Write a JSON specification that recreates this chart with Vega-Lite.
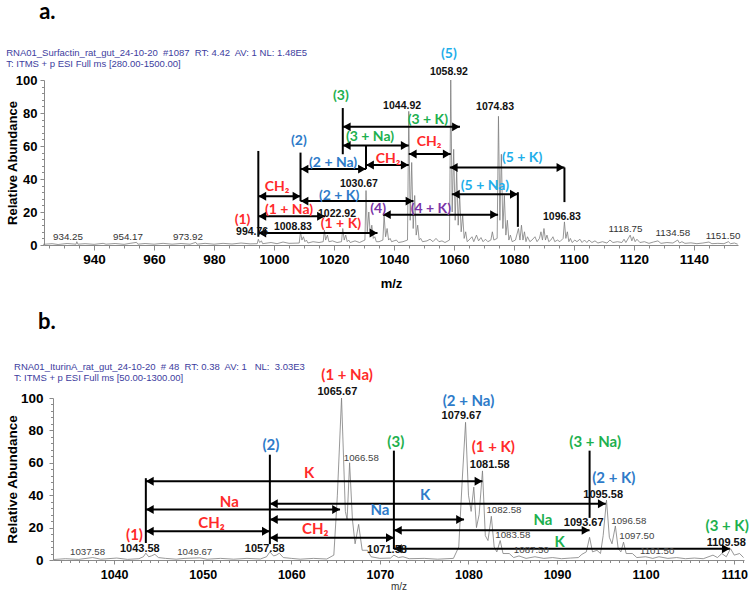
{
  "$schema": "https://vega.github.io/schema/vega-lite/v6.json",
  "padding": {"left": 5, "top": 0, "right": 0, "bottom": 0},
  "background": "white",
  "config": {
    "view": {"stroke": null},
    "axis": {"domainColor": "#8a8a8a", "tickColor": "#8a8a8a", "grid": false, "labelFont": "Liberation Sans", "titleFont": "Liberation Sans", "labelColor": "#000000", "titleColor": "#000000"}
  },
  "datasets": {
    "specA": [
      {"mz":923,"ab":0.4},{"mz":926,"ab":0.8},{"mz":928,"ab":0.3},{"mz":931,"ab":0.9},{"mz":934,"ab":0.5},{"mz":934.25,"ab":2},{"mz":934.6,"ab":0.5},{"mz":937,"ab":0.8},{"mz":940,"ab":0.4},{"mz":943,"ab":1},{"mz":944,"ab":0.5},{"mz":947,"ab":0.9},{"mz":950,"ab":0.4},{"mz":952,"ab":1},{"mz":954.17,"ab":1.6},{"mz":954.6,"ab":0.5},{"mz":957,"ab":0.9},{"mz":960,"ab":0.5},{"mz":963,"ab":1},{"mz":966,"ab":0.5},{"mz":969,"ab":0.9},{"mz":972,"ab":0.5},{"mz":973.92,"ab":1.6},{"mz":974.3,"ab":0.5},{"mz":977,"ab":1},{"mz":980,"ab":0.5},{"mz":983,"ab":1},{"mz":986,"ab":0.6},{"mz":989,"ab":1.2},{"mz":992,"ab":0.7},{"mz":994.4,"ab":0.8},{"mz":994.76,"ab":3.5},{"mz":995.2,"ab":1.5},{"mz":995.8,"ab":2.5},{"mz":996.2,"ab":0.8},{"mz":999,"ab":1.5},{"mz":1001,"ab":0.8},{"mz":1003,"ab":1.8},{"mz":1005,"ab":1},{"mz":1008.4,"ab":1.2},{"mz":1008.83,"ab":8},{"mz":1009.3,"ab":3},{"mz":1009.8,"ab":5},{"mz":1010.3,"ab":2},{"mz":1010.8,"ab":3},{"mz":1011.3,"ab":1.2},{"mz":1013,"ab":2},{"mz":1015,"ab":1.5},{"mz":1016.4,"ab":2},{"mz":1016.8,"ab":9},{"mz":1017.2,"ab":3},{"mz":1017.8,"ab":6},{"mz":1018.3,"ab":2},{"mz":1019.5,"ab":2.5},{"mz":1021,"ab":1.5},{"mz":1022.5,"ab":2},{"mz":1022.92,"ab":10},{"mz":1023.4,"ab":3},{"mz":1023.9,"ab":6},{"mz":1024.4,"ab":2},{"mz":1024.9,"ab":3},{"mz":1025.4,"ab":1.5},{"mz":1027,"ab":2.5},{"mz":1028.5,"ab":1.5},{"mz":1030.3,"ab":3},{"mz":1030.67,"ab":33},{"mz":1031.1,"ab":8},{"mz":1031.6,"ab":20},{"mz":1032.1,"ab":6},{"mz":1032.6,"ab":12},{"mz":1033.1,"ab":4},{"mz":1033.6,"ab":5},{"mz":1034.1,"ab":2},{"mz":1035,"ab":2},{"mz":1036.3,"ab":3},{"mz":1036.7,"ab":18},{"mz":1037.2,"ab":5},{"mz":1037.7,"ab":10},{"mz":1038.2,"ab":3},{"mz":1038.7,"ab":4},{"mz":1039.2,"ab":2},{"mz":1040.8,"ab":3},{"mz":1041.5,"ab":1.5},{"mz":1043,"ab":2},{"mz":1044.5,"ab":3},{"mz":1044.92,"ab":81},{"mz":1045.4,"ab":15},{"mz":1045.9,"ab":50},{"mz":1046.4,"ab":10},{"mz":1046.9,"ab":30},{"mz":1047.4,"ab":6},{"mz":1047.9,"ab":12},{"mz":1048.4,"ab":3},{"mz":1048.9,"ab":4},{"mz":1049.5,"ab":2},{"mz":1051,"ab":2.5},{"mz":1052,"ab":3.5},{"mz":1053,"ab":2},{"mz":1054,"ab":4},{"mz":1055,"ab":2},{"mz":1056,"ab":2.5},{"mz":1057,"ab":1.5},{"mz":1058.5,"ab":3},{"mz":1058.92,"ab":100},{"mz":1059.4,"ab":20},{"mz":1059.9,"ab":58},{"mz":1060.4,"ab":15},{"mz":1060.9,"ab":45},{"mz":1061.4,"ab":12},{"mz":1061.9,"ab":30},{"mz":1062.4,"ab":8},{"mz":1062.9,"ab":18},{"mz":1063.4,"ab":4},{"mz":1063.9,"ab":8},{"mz":1064.4,"ab":2},{"mz":1065,"ab":3},{"mz":1066,"ab":5},{"mz":1066.6,"ab":2},{"mz":1067.5,"ab":6},{"mz":1068.2,"ab":2.5},{"mz":1069,"ab":4.5},{"mz":1069.7,"ab":2},{"mz":1070.5,"ab":3.5},{"mz":1071.3,"ab":2},{"mz":1072.3,"ab":3},{"mz":1072.8,"ab":8},{"mz":1073.3,"ab":3},{"mz":1074.4,"ab":4},{"mz":1074.83,"ab":78},{"mz":1075.3,"ab":15},{"mz":1075.8,"ab":55},{"mz":1076.3,"ab":10},{"mz":1076.8,"ab":30},{"mz":1077.3,"ab":6},{"mz":1077.8,"ab":15},{"mz":1078.3,"ab":3},{"mz":1078.8,"ab":6},{"mz":1079.4,"ab":2},{"mz":1080.5,"ab":3},{"mz":1081.5,"ab":10},{"mz":1082,"ab":3},{"mz":1082.5,"ab":12},{"mz":1083,"ab":3},{"mz":1083.5,"ab":8},{"mz":1084,"ab":2},{"mz":1084.5,"ab":5},{"mz":1085.3,"ab":2},{"mz":1086,"ab":3},{"mz":1087,"ab":5},{"mz":1087.7,"ab":2},{"mz":1088.5,"ab":4},{"mz":1089,"ab":8},{"mz":1089.5,"ab":3},{"mz":1090,"ab":10},{"mz":1090.5,"ab":3},{"mz":1091,"ab":6},{"mz":1091.6,"ab":2},{"mz":1092.3,"ab":3},{"mz":1093,"ab":5},{"mz":1093.6,"ab":2},{"mz":1094.5,"ab":3},{"mz":1095.3,"ab":2},{"mz":1096.4,"ab":4},{"mz":1096.83,"ab":14},{"mz":1097.3,"ab":4},{"mz":1097.8,"ab":8},{"mz":1098.3,"ab":2},{"mz":1098.8,"ab":4},{"mz":1099.4,"ab":1.5},{"mz":1100.3,"ab":3},{"mz":1101,"ab":2},{"mz":1102,"ab":3.5},{"mz":1102.7,"ab":1.5},{"mz":1103.5,"ab":3},{"mz":1104.3,"ab":1.5},{"mz":1105,"ab":3},{"mz":1106,"ab":1.5},{"mz":1107,"ab":2.5},{"mz":1108,"ab":1.2},{"mz":1109.5,"ab":2},{"mz":1111,"ab":1.2},{"mz":1112,"ab":3},{"mz":1113,"ab":1.5},{"mz":1114.5,"ab":2},{"mz":1116,"ab":1.5},{"mz":1116.7,"ab":3.5},{"mz":1117.3,"ab":1.5},{"mz":1118.75,"ab":6},{"mz":1119.3,"ab":2.5},{"mz":1119.8,"ab":5},{"mz":1120.4,"ab":2},{"mz":1121,"ab":3.5},{"mz":1122,"ab":1.5},{"mz":1123.5,"ab":2},{"mz":1125,"ab":1},{"mz":1126.5,"ab":1.8},{"mz":1128,"ab":2.5},{"mz":1129,"ab":1},{"mz":1131,"ab":1.5},{"mz":1133,"ab":1.2},{"mz":1134.58,"ab":3},{"mz":1135.2,"ab":1.2},{"mz":1136,"ab":2},{"mz":1137,"ab":1},{"mz":1139,"ab":1.3},{"mz":1141,"ab":0.8},{"mz":1143,"ab":1.2},{"mz":1145,"ab":1.8},{"mz":1146,"ab":0.8},{"mz":1148,"ab":1},{"mz":1150,"ab":0.8},{"mz":1151.5,"ab":2},{"mz":1152.2,"ab":0.8},{"mz":1153.5,"ab":1.2},{"mz":1154.6,"ab":0.5}
    ],
    "arrA": [
      {"mz":994.76,"mz2":1008.83,"ab":29.6},
      {"mz":994.76,"mz2":1017,"ab":17.4},
      {"mz":994.76,"mz2":1034.5,"ab":7.3},
      {"mz":1008.83,"mz2":1030.67,"ab":46},
      {"mz":1008.83,"mz2":1046.5,"ab":26.6},
      {"mz":1022.92,"mz2":1044.92,"ab":60.3},
      {"mz":1022.92,"mz2":1062,"ab":71.6},
      {"mz":1030.67,"mz2":1044.92,"ab":48.5},
      {"mz":1044.92,"mz2":1058.92,"ab":55.2},
      {"mz":1036.3,"mz2":1074.7,"ab":18.4},
      {"mz":1059.3,"mz2":1081.3,"ab":30.7},
      {"mz":1058.6,"mz2":1096.83,"ab":47}
    ],
    "vlA": [
      {"mz":994.76,"ab":5,"ab2":57},
      {"mz":1008.83,"ab":26.6,"ab2":56},
      {"mz":1022.92,"ab":55,"ab2":83},
      {"mz":1030.67,"ab":46,"ab2":60.3},
      {"mz":1081.3,"ab":11,"ab2":32},
      {"mz":1096.83,"ab":26,"ab2":47}
    ],
    "labA": [
      {"k":"ion","s":"c1","mz":989.5,"ab":15,"t":"(1)"},
      {"k":"ion","s":"c1","mz":1005,"ab":21,"t":"(1 + Na)"},
      {"k":"ion","s":"c1","mz":1022.3,"ab":13,"t":"(1 + K)"},
      {"k":"ion","s":"c1","mz":1001,"ab":35,"t":"CH₂"},
      {"k":"ion","s":"c2","mz":1008.3,"ab":63,"t":"(2)"},
      {"k":"ion","s":"c2","mz":1019.7,"ab":50,"t":"(2 + Na)"},
      {"k":"ion","s":"c2","mz":1021.7,"ab":30,"t":"(2 + K)"},
      {"k":"ion","s":"c3","mz":1022.3,"ab":90.5,"t":"(3)"},
      {"k":"ion","s":"c3","mz":1032,"ab":65.6,"t":"(3 + Na)"},
      {"k":"ion","s":"c3","mz":1051.3,"ab":76,"t":"(3 + K)"},
      {"k":"ion","s":"c1","mz":1038,"ab":52,"t":"CH₂"},
      {"k":"ion","s":"c1","mz":1051.7,"ab":62.6,"t":"CH₂"},
      {"k":"ion","s":"c4","mz":1034.7,"ab":22,"t":"(4)"},
      {"k":"ion","s":"c4","mz":1052.3,"ab":22,"t":"(4 + K)"},
      {"k":"ion","s":"c5","mz":1058.3,"ab":116,"t":"(5)"},
      {"k":"ion","s":"c5","mz":1070.3,"ab":35.6,"t":"(5 + Na)"},
      {"k":"ion","s":"c5","mz":1082.7,"ab":52.8,"t":"(5 + K)"},
      {"k":"pk","mz":992.7,"ab":8,"t":"994.76"},
      {"k":"pk","mz":1006.3,"ab":11,"t":"1008.83"},
      {"k":"pk","mz":1021,"ab":19,"t":"1022.92"},
      {"k":"pk","mz":1028.3,"ab":36.8,"t":"1030.67"},
      {"k":"pk","mz":1042.7,"ab":84,"t":"1044.92"},
      {"k":"pk","mz":1058.3,"ab":105,"t":"1058.92"},
      {"k":"pk","mz":1073.7,"ab":83.4,"t":"1074.83"},
      {"k":"pk","mz":1096,"ab":17,"t":"1096.83"},
      {"k":"sm","mz":931.3,"ab":5,"t":"934.25"},
      {"k":"sm","mz":951.3,"ab":5,"t":"954.17"},
      {"k":"sm","mz":971.3,"ab":5,"t":"973.92"},
      {"k":"sm","mz":1117.2,"ab":9.8,"t":"1118.75"},
      {"k":"sm","mz":1133,"ab":7,"t":"1134.58"},
      {"k":"sm","mz":1149.7,"ab":5.5,"t":"1151.50"},
      {"k":"hd","mz":910.7,"ab":116.5,"t":"RNA01_Surfactin_rat_gut_24-10-20\u00a0 #1087\u00a0 RT: 4.42\u00a0 AV: 1 NL: 1.48E5"},
      {"k":"hd","mz":910.7,"ab":110,"t":"T: ITMS + p ESI Full ms [280.00-1500.00]"},
      {"k":"lt","mz":921.7,"ab":137.2,"t":"a."}
    ],
    "specB": [
      {"mz":1033.2,"ab":0.3},{"mz":1034.5,"ab":0.8},{"mz":1036,"ab":0.4},{"mz":1037.58,"ab":1.5},{"mz":1038.5,"ab":0.5},{"mz":1040.3,"ab":1.2},{"mz":1041.5,"ab":0.4},{"mz":1042.8,"ab":0.8},{"mz":1043.3,"ab":2},{"mz":1043.58,"ab":4.2},{"mz":1043.9,"ab":2},{"mz":1044.2,"ab":2.5},{"mz":1044.6,"ab":3.5},{"mz":1045,"ab":1.5},{"mz":1045.8,"ab":1},{"mz":1047,"ab":0.5},{"mz":1048,"ab":1},{"mz":1049.67,"ab":1.3},{"mz":1050.5,"ab":0.5},{"mz":1052,"ab":1},{"mz":1053.5,"ab":0.5},{"mz":1055,"ab":1},{"mz":1056.5,"ab":0.6},{"mz":1057.2,"ab":2},{"mz":1057.58,"ab":5},{"mz":1058,"ab":2.5},{"mz":1058.3,"ab":3},{"mz":1058.65,"ab":4.2},{"mz":1059.1,"ab":1.5},{"mz":1060,"ab":1},{"mz":1061,"ab":0.5},{"mz":1062.5,"ab":1},{"mz":1064,"ab":0.6},{"mz":1064.8,"ab":3},{"mz":1065.2,"ab":40},{"mz":1065.67,"ab":100},{"mz":1066.1,"ab":30},{"mz":1066.3,"ab":25},{"mz":1066.58,"ab":60},{"mz":1066.9,"ab":25},{"mz":1067.2,"ab":10},{"mz":1067.6,"ab":22},{"mz":1068,"ab":6},{"mz":1068.6,"ab":6},{"mz":1069,"ab":2},{"mz":1070,"ab":1},{"mz":1071.2,"ab":1.2},{"mz":1071.58,"ab":3},{"mz":1072.1,"ab":1.5},{"mz":1072.6,"ab":2},{"mz":1073.3,"ab":0.8},{"mz":1075,"ab":1},{"mz":1076.5,"ab":0.5},{"mz":1078.3,"ab":1},{"mz":1078.9,"ab":8},{"mz":1079.3,"ab":50},{"mz":1079.67,"ab":85},{"mz":1080,"ab":40},{"mz":1080.3,"ab":30},{"mz":1080.6,"ab":45},{"mz":1080.9,"ab":20},{"mz":1081.2,"ab":28},{"mz":1081.58,"ab":55},{"mz":1081.9,"ab":15},{"mz":1082.2,"ab":12},{"mz":1082.58,"ab":27},{"mz":1082.9,"ab":8},{"mz":1083.2,"ab":5},{"mz":1083.58,"ab":12},{"mz":1083.9,"ab":4},{"mz":1084.6,"ab":4},{"mz":1085.1,"ab":1.5},{"mz":1085.7,"ab":2.5},{"mz":1086.5,"ab":1},{"mz":1087.5,"ab":2},{"mz":1088.5,"ab":1},{"mz":1089.5,"ab":1.5},{"mz":1090.5,"ab":0.8},{"mz":1091.5,"ab":1.2},{"mz":1092.4,"ab":1.5},{"mz":1092.8,"ab":3.5},{"mz":1093.3,"ab":5},{"mz":1093.67,"ab":14},{"mz":1094,"ab":5},{"mz":1094.5,"ab":6},{"mz":1094.9,"ab":4},{"mz":1095.2,"ab":15},{"mz":1095.58,"ab":37},{"mz":1095.9,"ab":14},{"mz":1096.2,"ab":10},{"mz":1096.58,"ab":21},{"mz":1096.9,"ab":7},{"mz":1097.2,"ab":5},{"mz":1097.5,"ab":11},{"mz":1097.8,"ab":4},{"mz":1098.5,"ab":4},{"mz":1099,"ab":1.5},{"mz":1100,"ab":2},{"mz":1100.8,"ab":1},{"mz":1101.5,"ab":2},{"mz":1102.5,"ab":1},{"mz":1103.5,"ab":1.5},{"mz":1104.5,"ab":0.8},{"mz":1105.5,"ab":1.2},{"mz":1106.5,"ab":0.8},{"mz":1107.6,"ab":3},{"mz":1108.1,"ab":1.5},{"mz":1108.6,"ab":4},{"mz":1109.1,"ab":2},{"mz":1109.58,"ab":7},{"mz":1110,"ab":3},{"mz":1110.6,"ab":4},{"mz":1111.05,"ab":1.5}
    ],
    "arrB": [
      {"mz":1043.58,"mz2":1081.58,"ab":48.6},
      {"mz":1043.58,"mz2":1065.5,"ab":31.2},
      {"mz":1043.58,"mz2":1057.58,"ab":17.8},
      {"mz":1057.58,"mz2":1095.5,"ab":34.7},
      {"mz":1057.58,"mz2":1079.5,"ab":25},
      {"mz":1057.58,"mz2":1071.58,"ab":13.7},
      {"mz":1071.58,"mz2":1093.67,"ab":18.3},
      {"mz":1071.58,"mz2":1109.5,"ab":7}
    ],
    "vlB": [
      {"mz":1043.58,"ab":10.5,"ab2":50.5},
      {"mz":1057.58,"ab":9.8,"ab2":65},
      {"mz":1071.58,"ab":6.7,"ab2":67.5},
      {"mz":1093.67,"ab":26,"ab2":67.5}
    ],
    "labB": [
      {"k":"ion","s":"c1","mz":1042.3,"ab":15.7,"t":"(1)"},
      {"k":"ion","s":"c2","mz":1057.7,"ab":71,"t":"(2)"},
      {"k":"ion","s":"c1","mz":1062,"ab":54,"t":"K"},
      {"k":"ion","s":"c1","mz":1053,"ab":36,"t":"Na"},
      {"k":"ion","s":"c1","mz":1051,"ab":22.7,"t":"CH₂"},
      {"k":"ion","s":"c1","mz":1062.7,"ab":19,"t":"CH₂"},
      {"k":"ion","s":"c2","mz":1070,"ab":30.8,"t":"Na"},
      {"k":"ion","s":"c2","mz":1075.1,"ab":40,"t":"K"},
      {"k":"ion","s":"c3","mz":1088.4,"ab":24.6,"t":"Na"},
      {"k":"ion","s":"c3","mz":1090.3,"ab":11.4,"t":"K"},
      {"k":"ion","s":"c1","mz":1066.3,"ab":114.5,"t":"(1 + Na)"},
      {"k":"ion","s":"c2","mz":1080,"ab":98,"t":"(2 + Na)"},
      {"k":"ion","s":"c3","mz":1071.8,"ab":73,"t":"(3)"},
      {"k":"ion","s":"c1","mz":1082.8,"ab":70,"t":"(1 + K)"},
      {"k":"ion","s":"c3","mz":1094.3,"ab":73,"t":"(3 + Na)"},
      {"k":"ion","s":"c2","mz":1096.4,"ab":50.8,"t":"(2 + K)"},
      {"k":"ion","s":"c3","mz":1109.2,"ab":21,"t":"(3 + K)"},
      {"k":"pk","mz":1042.9,"ab":7,"t":"1043.58"},
      {"k":"pk","mz":1057,"ab":7,"t":"1057.58"},
      {"k":"pk","mz":1070.8,"ab":6,"t":"1071.58"},
      {"k":"pk","mz":1065.2,"ab":104,"t":"1065.67"},
      {"k":"pk","mz":1079.2,"ab":88.6,"t":"1079.67"},
      {"k":"pk","mz":1082.4,"ab":58.8,"t":"1081.58"},
      {"k":"pk","mz":1095.2,"ab":40.3,"t":"1095.58"},
      {"k":"pk","mz":1093,"ab":23,"t":"1093.67"},
      {"k":"pk","mz":1109.1,"ab":10.8,"t":"1109.58"},
      {"k":"sm","mz":1037,"ab":5,"t":"1037.58"},
      {"k":"sm","mz":1049.1,"ab":5,"t":"1049.67"},
      {"k":"sm","mz":1067.9,"ab":63,"t":"1066.58"},
      {"k":"sm","mz":1084,"ab":30.8,"t":"1082.58"},
      {"k":"sm","mz":1098.1,"ab":24,"t":"1096.58"},
      {"k":"sm","mz":1085,"ab":15.4,"t":"1083.58"},
      {"k":"sm","mz":1099,"ab":14.8,"t":"1097.50"},
      {"k":"sm","mz":1087.1,"ab":6,"t":"1087.50"},
      {"k":"sm","mz":1101.3,"ab":5.5,"t":"1101.50"},
      {"k":"hd","mz":1028.7,"ab":119,"t":"RNA01_IturinA_rat_gut_24-10-20\u00a0 # 48\u00a0 RT: 0.38\u00a0 AV: 1\u00a0\u00a0 NL:\u00a0 3.03E3"},
      {"k":"hd","mz":1028.7,"ab":112.3,"t":"T: ITMS + p ESI Full ms [50.00-1300.00]"},
      {"k":"lt","mz":1031.4,"ab":142.6,"t":"b."}
    ]
  },
  "columns": 1,
  "align": "none",
  "spacing": 19,
  "resolve": {"scale": {"x": "independent", "y": "independent", "color": "independent"}},
  "concat": [
    {
      "width": 685,
      "height": 165,
      "resolve": {"axis": {"x": "independent", "y": "independent"}},
      "layer": [
        {
          "data": {"name": "specA"},
          "mark": {"type": "line", "color": "#7d7d7d", "strokeWidth": 0.8},
          "encoding": {
            "x": {"field": "mz", "type": "quantitative", "scale": {"domain": [923.3, 1154.7], "range": [-9, 685], "nice": false, "zero": false},
              "axis": {"orient": "bottom", "title": "m/z", "format": "d", "values": [940,960,980,1000,1020,1040,1060,1080,1100,1120,1140],
                "labelOverlap": false, "labelFlush": false,
                "labelFontSize": 13.5, "labelFontWeight": "bold", "labelPadding": 2, "tickSize": 5,
                "titleFontSize": 13, "titleFontWeight": "bold", "titlePadding": 12}},
            "y": {"field": "ab", "type": "quantitative", "scale": {"domain": [0, 100], "nice": false},
              "axis": {"orient": "left", "offset": 9, "title": "Relative Abundance", "format": "d", "values": [0,20,40,60,80,100],
                "labelOverlap": false, "labelFlush": false,
                "labelFontSize": 13, "labelFontWeight": "bold", "labelPadding": 3, "tickSize": 4,
                "titleFontSize": 13, "titleFontWeight": "bold", "titlePadding": -4}}
          }
        },
        {
          "data": {"name": "vlA"},
          "mark": {"type": "rule", "color": "#000000", "strokeWidth": 2},
          "encoding": {
            "x": {"field": "mz", "type": "quantitative", "scale": {"domain": [923.3, 1154.7], "range": [-9, 685], "nice": false, "zero": false},
              "axis": {"orient": "bottom", "title": null, "labels": false, "domain": false, "tickSize": 3,
                "values": [925,930,935,945,950,955,965,970,975,985,990,995,1005,1010,1015,1025,1030,1035,1045,1050,1055,1065,1070,1075,1085,1090,1095,1105,1110,1115,1125,1130,1135,1145,1150]}},
            "y": {"field": "ab", "type": "quantitative", "scale": {"domain": [0, 100], "nice": false},
              "axis": {"orient": "left", "offset": 9, "title": null, "labels": false, "domain": false, "tickSize": 2.5,
                "values": [4,8,12,16,24,28,32,36,44,48,52,56,64,68,72,76,84,88,92,96]}},
            "y2": {"field": "ab2"}
          }
        },
        {
          "data": {"name": "arrA"},
          "mark": {"type": "rule", "color": "#000000", "strokeWidth": 2},
          "encoding": {
            "x": {"field": "mz", "type": "quantitative", "scale": {"domain": [923.3, 1154.7], "range": [-9, 685], "nice": false, "zero": false}, "axis": null},
            "x2": {"field": "mz2"},
            "y": {"field": "ab", "type": "quantitative", "scale": {"domain": [0, 100], "nice": false}, "axis": null}
          }
        },
        {
          "data": {"name": "arrA"},
          "mark": {"type": "point", "shape": "triangle-left", "filled": true, "color": "#000000", "opacity": 1, "size": 80, "xOffset": 4},
          "encoding": {
            "x": {"field": "mz", "type": "quantitative", "scale": {"domain": [923.3, 1154.7], "range": [-9, 685], "nice": false, "zero": false}, "axis": null},
            "y": {"field": "ab", "type": "quantitative", "scale": {"domain": [0, 100], "nice": false}, "axis": null}
          }
        },
        {
          "data": {"name": "arrA"},
          "mark": {"type": "point", "shape": "triangle-right", "filled": true, "color": "#000000", "opacity": 1, "size": 80, "xOffset": -4},
          "encoding": {
            "x": {"field": "mz2", "type": "quantitative", "scale": {"domain": [923.3, 1154.7], "range": [-9, 685], "nice": false, "zero": false}, "axis": null},
            "y": {"field": "ab", "type": "quantitative", "scale": {"domain": [0, 100], "nice": false}, "axis": null}
          }
        },
        {
          "data": {"name": "labA"},
          "transform": [{"filter": "datum.k === 'ion'"}],
          "mark": {"type": "text", "font": "Lato", "fontWeight": "bold", "fontSize": 14, "align": "center", "baseline": "middle"},
          "encoding": {
            "x": {"field": "mz", "type": "quantitative", "scale": {"domain": [923.3, 1154.7], "range": [-9, 685], "nice": false, "zero": false}, "axis": null},
            "y": {"field": "ab", "type": "quantitative", "scale": {"domain": [0, 100], "nice": false}, "axis": null},
            "text": {"field": "t"},
            "color": {"field": "s", "type": "nominal", "scale": {"domain": ["c1","c2","c3","c4","c5"], "range": ["#ff2a2a","#2e7bc9","#1db04e","#7a35a8","#1eaeea"]}, "legend": null}
          }
        },
        {
          "data": {"name": "labA"},
          "transform": [{"filter": "datum.k === 'pk'"}],
          "mark": {"type": "text", "font": "Liberation Sans", "fontWeight": "bold", "fontSize": 10.5, "align": "center", "baseline": "middle", "color": "#111111"},
          "encoding": {
            "x": {"field": "mz", "type": "quantitative", "scale": {"domain": [923.3, 1154.7], "range": [-9, 685], "nice": false, "zero": false}, "axis": null},
            "y": {"field": "ab", "type": "quantitative", "scale": {"domain": [0, 100], "nice": false}, "axis": null},
            "text": {"field": "t"}
          }
        },
        {
          "data": {"name": "labA"},
          "transform": [{"filter": "datum.k === 'sm'"}],
          "mark": {"type": "text", "font": "Liberation Sans", "fontSize": 9.8, "align": "center", "baseline": "middle", "color": "#333333"},
          "encoding": {
            "x": {"field": "mz", "type": "quantitative", "scale": {"domain": [923.3, 1154.7], "range": [-9, 685], "nice": false, "zero": false}, "axis": null},
            "y": {"field": "ab", "type": "quantitative", "scale": {"domain": [0, 100], "nice": false}, "axis": null},
            "text": {"field": "t"}
          }
        },
        {
          "data": {"name": "labA"},
          "transform": [{"filter": "datum.k === 'hd'"}],
          "mark": {"type": "text", "font": "Liberation Sans", "fontSize": 9.5, "align": "left", "baseline": "middle", "color": "#3d3d9e"},
          "encoding": {
            "x": {"field": "mz", "type": "quantitative", "scale": {"domain": [923.3, 1154.7], "range": [-9, 685], "nice": false, "zero": false}, "axis": null},
            "y": {"field": "ab", "type": "quantitative", "scale": {"domain": [0, 100], "nice": false}, "axis": null},
            "text": {"field": "t"}
          }
        },
        {
          "data": {"name": "labA"},
          "transform": [{"filter": "datum.k === 'lt'"}],
          "mark": {"type": "text", "font": "Lato", "fontWeight": "bold", "fontSize": 22, "align": "left", "baseline": "alphabetic", "color": "#000000"},
          "encoding": {
            "x": {"field": "mz", "type": "quantitative", "scale": {"domain": [923.3, 1154.7], "range": [-9, 685], "nice": false, "zero": false}, "axis": null},
            "y": {"field": "ab", "type": "quantitative", "scale": {"domain": [0, 100], "nice": false}, "axis": null},
            "text": {"field": "t"}
          }
        }
      ]
    },
    {
      "width": 691,
      "height": 162,
      "resolve": {"axis": {"x": "independent", "y": "independent"}},
      "layer": [
        {
          "data": {"name": "specB"},
          "mark": {"type": "line", "color": "#7d7d7d", "strokeWidth": 0.8},
          "encoding": {
            "x": {"field": "mz", "type": "quantitative", "scale": {"domain": [1033.1, 1111.1], "nice": false, "zero": false},
              "axis": {"orient": "bottom", "title": "m/z", "format": "d", "values": [1040,1050,1060,1070,1080,1090,1100,1110],
                "labelOverlap": false, "labelFlush": false,
                "labelFontSize": 12.5, "labelFontWeight": "bold", "labelPadding": 4, "tickSize": 4,
                "titleFontSize": 10, "titleFontWeight": "normal", "titleColor": "#333333", "titlePadding": 1}},
            "y": {"field": "ab", "type": "quantitative", "scale": {"domain": [0, 100], "nice": false},
              "axis": {"orient": "left", "title": "Relative Abundance", "format": "d", "values": [0,20,40,60,80,100],
                "labelOverlap": false, "labelFlush": false,
                "labelFontSize": 13.5, "labelFontWeight": "bold", "labelPadding": 6, "tickSize": 4,
                "titleFontSize": 13.5, "titleFontWeight": "bold", "titlePadding": 1}}
          }
        },
        {
          "data": {"name": "vlB"},
          "mark": {"type": "rule", "color": "#000000", "strokeWidth": 2},
          "encoding": {
            "x": {"field": "mz", "type": "quantitative", "scale": {"domain": [1033.1, 1111.1], "nice": false, "zero": false},
              "axis": {"orient": "bottom", "title": null, "labels": false, "domain": false, "tickSize": 2.5,
                "values": [1034,1035,1036,1037,1038,1039,1041,1042,1043,1044,1045,1046,1047,1048,1049,1051,1052,1053,1054,1055,1056,1057,1058,1059,1061,1062,1063,1064,1065,1066,1067,1068,1069,1071,1072,1073,1074,1075,1076,1077,1078,1079,1081,1082,1083,1084,1085,1086,1087,1088,1089,1091,1092,1093,1094,1095,1096,1097,1098,1099,1101,1102,1103,1104,1105,1106,1107,1108,1109,1111]}},
            "y": {"field": "ab", "type": "quantitative", "scale": {"domain": [0, 100], "nice": false},
              "axis": {"orient": "left", "title": null, "labels": false, "domain": false, "tickSize": 2.5,
                "values": [4,8,12,16,24,28,32,36,44,48,52,56,64,68,72,76,84,88,92,96]}},
            "y2": {"field": "ab2"}
          }
        },
        {
          "data": {"name": "arrB"},
          "mark": {"type": "rule", "color": "#000000", "strokeWidth": 2},
          "encoding": {
            "x": {"field": "mz", "type": "quantitative", "scale": {"domain": [1033.1, 1111.1], "nice": false, "zero": false}, "axis": null},
            "x2": {"field": "mz2"},
            "y": {"field": "ab", "type": "quantitative", "scale": {"domain": [0, 100], "nice": false}, "axis": null}
          }
        },
        {
          "data": {"name": "arrB"},
          "mark": {"type": "point", "shape": "triangle-left", "filled": true, "color": "#000000", "opacity": 1, "size": 80, "xOffset": 4},
          "encoding": {
            "x": {"field": "mz", "type": "quantitative", "scale": {"domain": [1033.1, 1111.1], "nice": false, "zero": false}, "axis": null},
            "y": {"field": "ab", "type": "quantitative", "scale": {"domain": [0, 100], "nice": false}, "axis": null}
          }
        },
        {
          "data": {"name": "arrB"},
          "mark": {"type": "point", "shape": "triangle-right", "filled": true, "color": "#000000", "opacity": 1, "size": 80, "xOffset": -4},
          "encoding": {
            "x": {"field": "mz2", "type": "quantitative", "scale": {"domain": [1033.1, 1111.1], "nice": false, "zero": false}, "axis": null},
            "y": {"field": "ab", "type": "quantitative", "scale": {"domain": [0, 100], "nice": false}, "axis": null}
          }
        },
        {
          "data": {"name": "labB"},
          "transform": [{"filter": "datum.k === 'ion'"}],
          "mark": {"type": "text", "font": "Lato", "fontWeight": "bold", "fontSize": 15, "align": "center", "baseline": "middle"},
          "encoding": {
            "x": {"field": "mz", "type": "quantitative", "scale": {"domain": [1033.1, 1111.1], "nice": false, "zero": false}, "axis": null},
            "y": {"field": "ab", "type": "quantitative", "scale": {"domain": [0, 100], "nice": false}, "axis": null},
            "text": {"field": "t"},
            "color": {"field": "s", "type": "nominal", "scale": {"domain": ["c1","c2","c3","c4","c5"], "range": ["#ff2a2a","#2e7bc9","#1db04e","#7a35a8","#1eaeea"]}, "legend": null}
          }
        },
        {
          "data": {"name": "labB"},
          "transform": [{"filter": "datum.k === 'pk'"}],
          "mark": {"type": "text", "font": "Liberation Sans", "fontWeight": "bold", "fontSize": 11, "align": "center", "baseline": "middle", "color": "#111111"},
          "encoding": {
            "x": {"field": "mz", "type": "quantitative", "scale": {"domain": [1033.1, 1111.1], "nice": false, "zero": false}, "axis": null},
            "y": {"field": "ab", "type": "quantitative", "scale": {"domain": [0, 100], "nice": false}, "axis": null},
            "text": {"field": "t"}
          }
        },
        {
          "data": {"name": "labB"},
          "transform": [{"filter": "datum.k === 'sm'"}],
          "mark": {"type": "text", "font": "Liberation Sans", "fontSize": 9.7, "align": "center", "baseline": "middle", "color": "#444444"},
          "encoding": {
            "x": {"field": "mz", "type": "quantitative", "scale": {"domain": [1033.1, 1111.1], "nice": false, "zero": false}, "axis": null},
            "y": {"field": "ab", "type": "quantitative", "scale": {"domain": [0, 100], "nice": false}, "axis": null},
            "text": {"field": "t"}
          }
        },
        {
          "data": {"name": "labB"},
          "transform": [{"filter": "datum.k === 'hd'"}],
          "mark": {"type": "text", "font": "Liberation Sans", "fontSize": 9.5, "align": "left", "baseline": "middle", "color": "#3d3d9e"},
          "encoding": {
            "x": {"field": "mz", "type": "quantitative", "scale": {"domain": [1033.1, 1111.1], "nice": false, "zero": false}, "axis": null},
            "y": {"field": "ab", "type": "quantitative", "scale": {"domain": [0, 100], "nice": false}, "axis": null},
            "text": {"field": "t"}
          }
        },
        {
          "data": {"name": "labB"},
          "transform": [{"filter": "datum.k === 'lt'"}],
          "mark": {"type": "text", "font": "Lato", "fontWeight": "bold", "fontSize": 22, "align": "left", "baseline": "alphabetic", "color": "#000000"},
          "encoding": {
            "x": {"field": "mz", "type": "quantitative", "scale": {"domain": [1033.1, 1111.1], "nice": false, "zero": false}, "axis": null},
            "y": {"field": "ab", "type": "quantitative", "scale": {"domain": [0, 100], "nice": false}, "axis": null},
            "text": {"field": "t"}
          }
        }
      ]
    }
  ]
}
